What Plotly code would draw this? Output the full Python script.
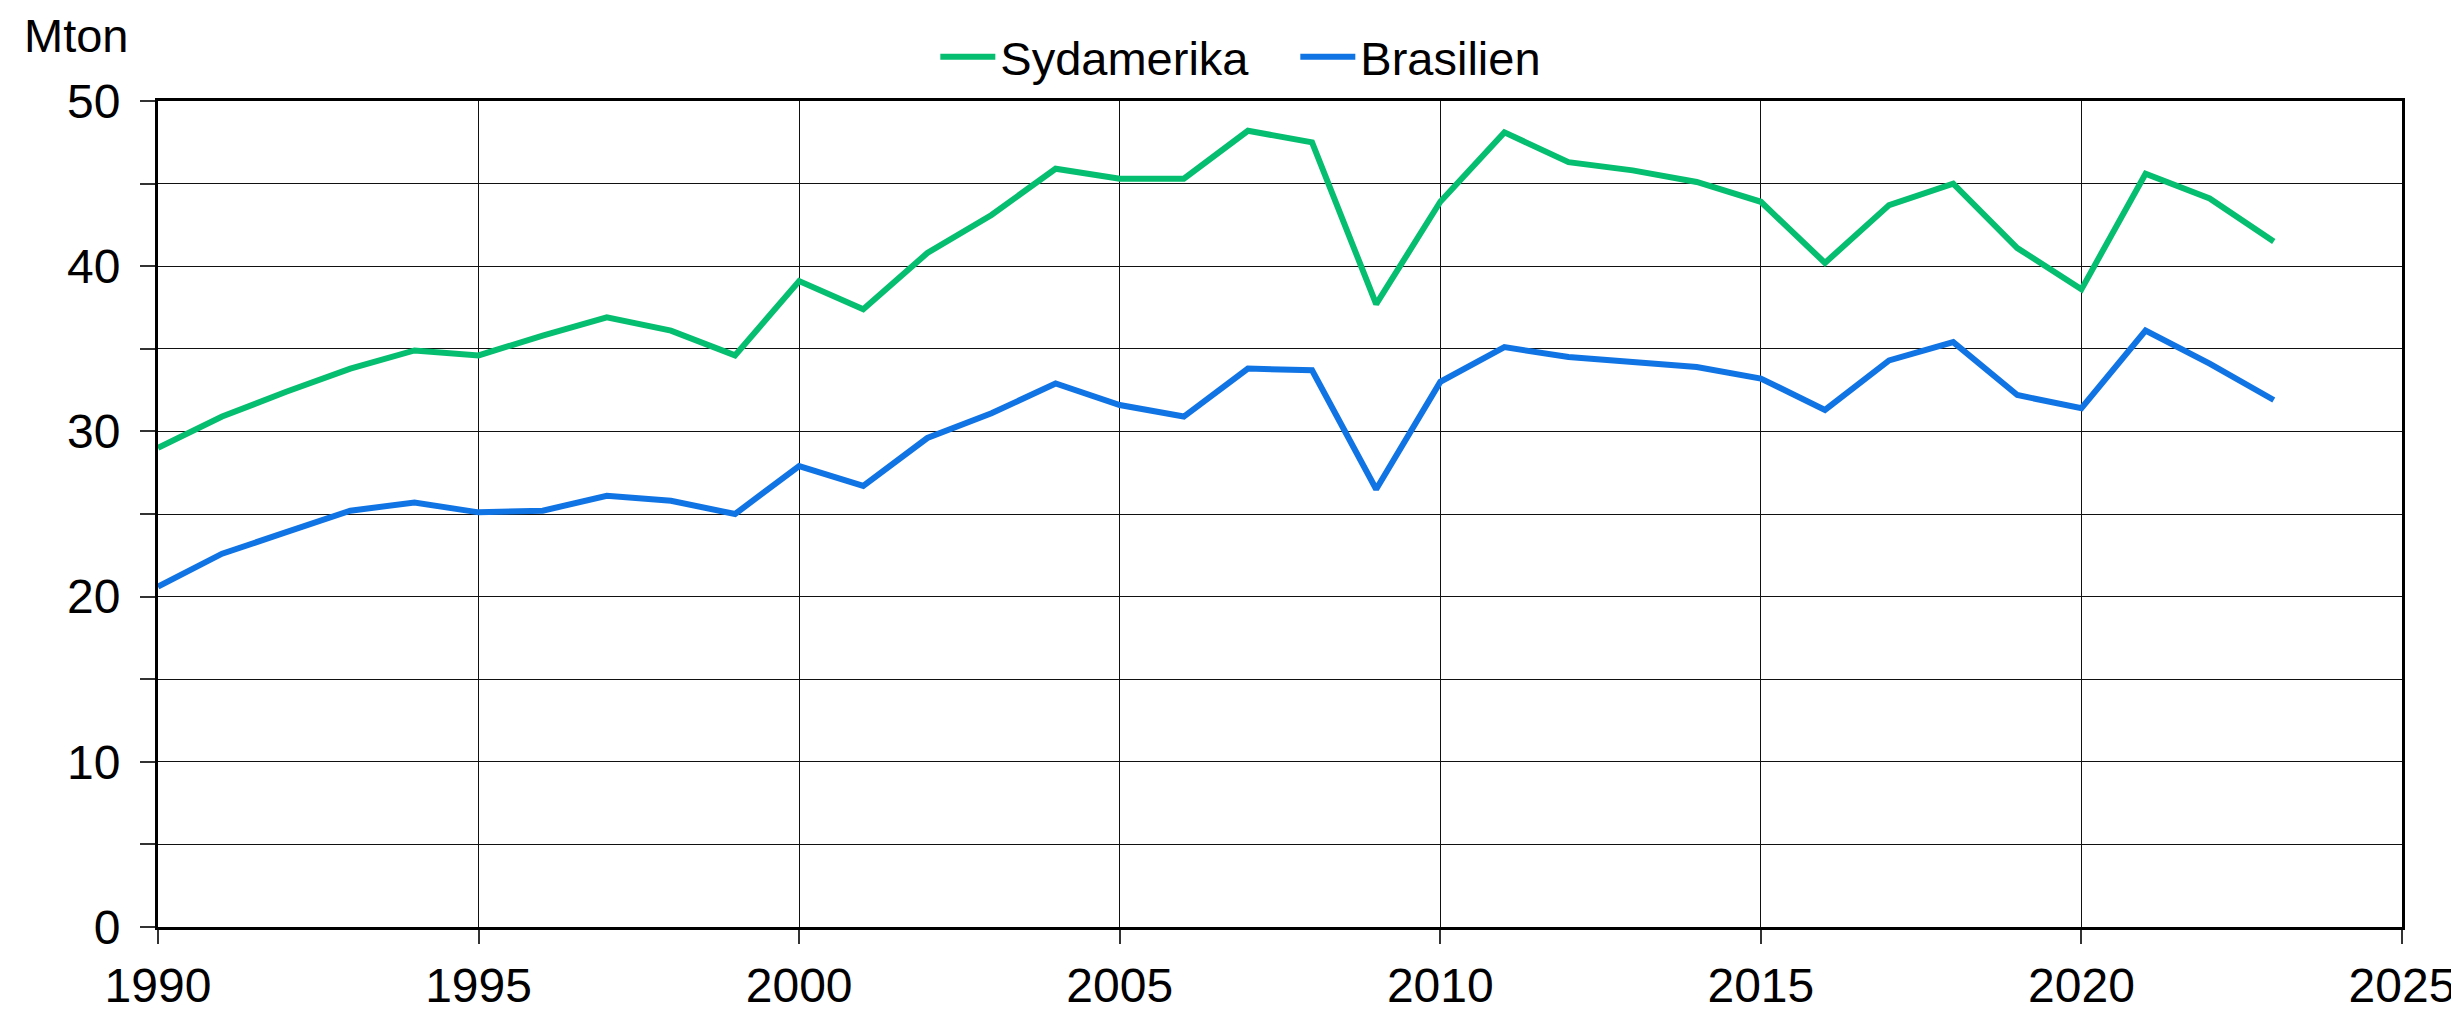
import plotly.graph_objects as go

years = list(range(1990, 2024))
sydamerika = [29.0, 30.9, 32.4, 33.8, 34.9, 34.6, 35.8, 36.9, 36.1, 34.6,
              39.1, 37.4, 40.8, 43.1, 45.9, 45.3, 45.3, 48.2, 47.5, 37.7,
              43.9, 48.1, 46.3, 45.8, 45.1, 43.9, 40.2, 43.7, 45.0, 41.1,
              38.6, 45.6, 44.1, 41.5]
brasilien = [20.6, 22.6, 23.9, 25.2, 25.7, 25.1, 25.2, 26.1, 25.8, 25.0,
             27.9, 26.7, 29.6, 31.1, 32.9, 31.6, 30.9, 33.8, 33.7, 26.5,
             33.0, 35.1, 34.5, 34.2, 33.9, 33.2, 31.3, 34.3, 35.4, 32.2,
             31.4, 36.1, 34.1, 31.9]
y_tickvals = [0, 5, 10, 15, 20, 25, 30, 35, 40, 45, 50]
y_ticktext = ["0", "", "10", "", "20", "", "30", "", "40", "", "50"]
x_tickvals = [1990, 1995, 2000, 2005, 2010, 2015, 2020, 2025]

FONT = "Liberation Sans, Arial, sans-serif"

fig = go.Figure()
fig.add_trace(go.Scatter(x=years, y=sydamerika, mode="lines", name="Sydamerika",
                         line=dict(color="#06BE70", width=6)))
fig.add_trace(go.Scatter(x=years, y=brasilien, mode="lines", name="Brasilien",
                         line=dict(color="#1174E4", width=6)))

fig.update_layout(
    width=2459, height=1016,
    margin=dict(l=150, r=59, t=89, b=80),
    paper_bgcolor="white", plot_bgcolor="white",
    font=dict(family=FONT, size=48, color="black"),
    showlegend=True,
    legend=dict(orientation="h", x=0.3464, y=1.0531, xanchor="left", yanchor="middle",
                font=dict(size=47), bgcolor="rgba(0,0,0,0)", itemwidth=55,
                entrywidth=290, entrywidthmode="pixels", tracegroupgap=0),
    annotations=[dict(text="Mton", x=-0.0605, y=1.079, xref="paper", yref="paper",
                      xanchor="left", yanchor="middle", showarrow=False,
                      font=dict(size=47, family=FONT))],
)
fig.update_xaxes(range=[1990, 2025], tickvals=x_tickvals, ticks="outside", ticklen=14,
                 tickcolor="#333", tickwidth=1.5,
                 showgrid=True, gridcolor="#111", gridwidth=1.2,
                 showline=True, linecolor="black", linewidth=3, mirror=True,
                 tickfont=dict(size=48), zeroline=False)
fig.update_yaxes(range=[0, 50], tickvals=y_tickvals, ticktext=y_ticktext, ticks="outside",
                 ticklen=15, tickcolor="#333", tickwidth=1.5,
                 showgrid=True, gridcolor="#111", gridwidth=1.2,
                 showline=True, linecolor="black", linewidth=3, mirror=True,
                 tickfont=dict(size=48), zeroline=False, ticklabelstandoff=10)

fig.write_html("out.html")
